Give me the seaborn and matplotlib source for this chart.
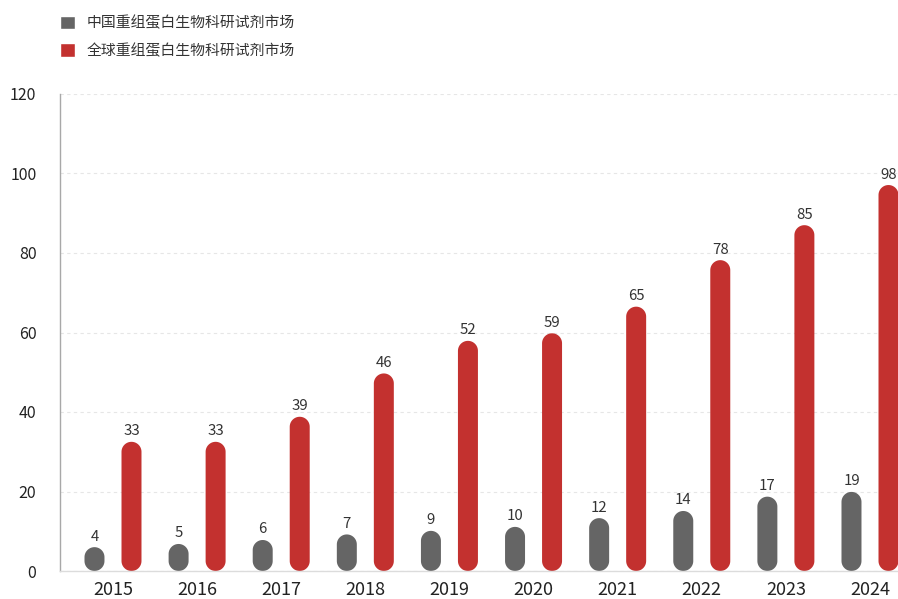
import matplotlib
matplotlib.use("Agg")
import matplotlib.pyplot as plt
import numpy as np
import pandas as pd
import seaborn as sns
from matplotlib.patches import PathPatch
from matplotlib.path import Path

# ---- data ----
years = ["2015", "2016", "2017", "2018", "2019", "2020", "2021", "2022", "2023", "2024"]
series_names = ["中国重组蛋白生物科研试剂市场", "全球重组蛋白生物科研试剂市场"]
china_labels = [4, 5, 6, 7, 9, 10, 12, 14, 17, 19]
global_labels = [33, 33, 39, 46, 52, 59, 65, 78, 85, 98]
# bar heights as drawn in the reference
china_heights = [6.0, 6.8, 7.8, 9.2, 10.1, 11.1, 13.3, 15.1, 18.7, 19.9]
global_heights = [32.5, 32.5, 38.8, 49.7, 57.9, 59.8, 66.5, 78.2, 87.0, 97.1]
y_ticks = [0, 20, 40, 60, 80, 100, 120]

colors = ["#656565", "#c3312f"]

sns.set_theme(style="white")
plt.rcParams["font.family"] = ["Noto Sans CJK SC", "DejaVu Sans"]

W, H = 898, 599
fig = plt.figure(figsize=(W / 100, H / 100), dpi=100)
ax = fig.add_axes([60 / W, 28 / H, 1 - 60 / W, (571 - 94) / H])

df = pd.DataFrame({
    "year": years * 2,
    "series": [series_names[0]] * len(years) + [series_names[1]] * len(years),
    "height": china_heights + global_heights,
})

sns.barplot(data=df, x="year", y="height", hue="series", hue_order=series_names,
            palette=colors, saturation=1, width=0.88, gap=0.46, ax=ax)

ax.set_xlim(-0.63, 9.333)
ax.set_ylim(0, 120)
ax.set_yticks(y_ticks)
ax.set_xlabel("")
ax.set_ylabel("")

# axes styling
for s in ["top", "right"]:
    ax.spines[s].set_visible(False)
ax.spines["left"].set_color("#a8a8a8")
ax.spines["left"].set_linewidth(1.0)
ax.spines["bottom"].set_color("#dcdcdc")
ax.spines["bottom"].set_linewidth(1.0)
ax.yaxis.grid(True, linestyle=(0, (3, 3)), color="#e6e6e6", linewidth=0.8)
ax.set_axisbelow(True)
ax.tick_params(axis="y", length=0, pad=17, labelsize=11.5, labelcolor="#222222")
ax.tick_params(axis="x", length=0, pad=7, labelsize=13, labelcolor="#222222")

# turn seaborn's bars into pill shapes (semicircular ends)
fig.canvas.draw()
p0 = ax.transData.transform((0, 0))
p1 = ax.transData.transform((1, 1))
asp = (p1[0] - p0[0]) / (p1[1] - p0[1])  # y-units per x-unit for equal pixels


def pill_path(x, y, w, h):
    rx = w / 2
    ry = rx * asp
    cx = x + rx
    h = max(h, 2 * ry)
    t_top = np.linspace(0, np.pi, 40)
    t_bot = np.linspace(np.pi, 2 * np.pi, 40)
    top = np.column_stack([cx + rx * np.cos(t_top), y + h - ry + ry * np.sin(t_top)])
    bot = np.column_stack([cx + rx * np.cos(t_bot), y + ry + ry * np.sin(t_bot)])
    verts = np.vstack([top, bot, top[:1]])
    codes = [Path.MOVETO] + [Path.LINETO] * (len(verts) - 2) + [Path.CLOSEPOLY]
    return Path(verts, codes)


for cont, labels in zip(ax.containers, [china_labels, global_labels]):
    for bar, lab in zip(cont.patches, labels):
        x, y, w, h = bar.get_x(), bar.get_y(), bar.get_width(), bar.get_height()
        fc = bar.get_facecolor()
        bar.set_visible(False)
        ax.add_patch(PathPatch(pill_path(x, y, w, h), facecolor=fc,
                               edgecolor="none", antialiased=True))
        ax.annotate(str(lab), (x + w / 2, y + h), xytext=(0, 6.5),
                    textcoords="offset pixels", ha="center", va="baseline",
                    fontsize=10.8, color="#333333")

sns.move_legend(ax, "upper left", bbox_to_anchor=(54 / W, 1 - 10 / H),
                bbox_transform=fig.transFigure, frameon=False, title=None,
                fontsize=10.7, handlelength=1.0, handleheight=1.0,
                handletextpad=0.78, labelspacing=0.85, borderaxespad=0)
for t in ax.get_legend().get_texts():
    t.set_color("#333333")

fig.savefig("out.png", dpi=100)
